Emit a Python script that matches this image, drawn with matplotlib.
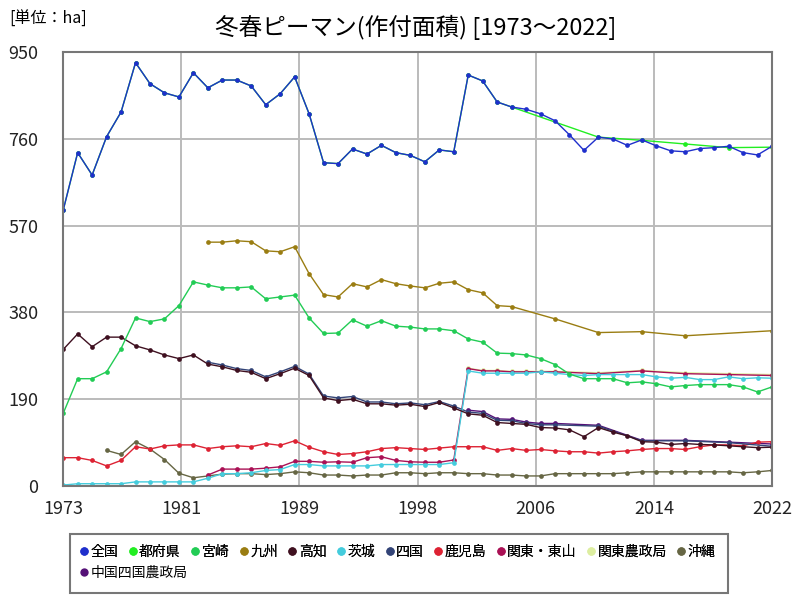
import numpy as np
import matplotlib
matplotlib.use('Agg')
import matplotlib.pyplot as plt
from matplotlib.lines import Line2D
from matplotlib.patches import Rectangle

plt.rcParams['font.family'] = ['Noto Sans CJK JP', 'DejaVu Sans']

# --- data (ha) ---
years = list(range(1973, 2023))

zenkoku = [604, 730, 681, 765, 819, 927, 881, 861, 852, 905,
           872, 889, 889, 876, 835, 859, 896, 815, 708, 706,
           738, 727, 746, 730, 724, 710, 736, 732, 900, 887,
           841, 830, 825, 815, 800, 769, 735, 764, 760, 746,
           758, 745, 734, 732, 739, 741, 744, 730, 725, 744]

tofuken_years = list(range(1973, 2005)) + [2010, 2013, 2016, 2019, 2022]
tofuken = [604, 730, 681, 765, 819, 927, 881, 861, 852, 905,
           872, 889, 889, 876, 835, 859, 896, 815, 708, 706,
           738, 727, 746, 730, 724, 710, 736, 732, 900, 887,
           841, 830,
           764, 757, 749, 741, 742]

miyazaki = [159, 235, 235, 250, 301, 368, 360, 366, 395, 447,
            440, 434, 434, 436, 410, 414, 418, 368, 334, 335,
            364, 350, 362, 350, 348, 344, 344, 340, 322, 315,
            291, 290, 287, 279, 266, 245, 235, 235, 235, 226,
            228, 224, 217, 220, 222, 222, 222, 217, 206, 217]

kyushu_years = list(range(1983, 2005)) + [2007, 2010, 2013, 2016, 2022]
kyushu = [534, 534, 537, 535, 515, 513, 524, 465, 419, 414,
          443, 436, 452, 443, 438, 434, 444, 447, 430, 423,
          395, 393,
          366, 336, 338, 329, 340]

kochi = [299, 333, 305, 326, 326, 307, 298, 287, 279, 287,
         267, 261, 253, 249, 235, 246, 258, 242, 193, 187,
         190, 180, 180, 177, 179, 174, 183, 171, 158, 155,
         139, 137, 135, 128, 127, 123, 108, 128, 118, 110,
         97, 96, 91, 93, 91, 90, 88, 86, 84, 85]

ibaraki = [2, 5, 5, 5, 5, 9, 9, 9, 9, 9,
           17, 27, 27, 29, 34, 36, 47, 47, 44, 44,
           44, 44, 47, 47, 47, 47, 47, 51, 252, 247,
           247, 247, 247, 250, 247, 244, 242, 244, 244, 244,
           244, 239, 236, 238, 233, 233, 239, 235, 237, 236]

shikoku_years = list(range(1983, 2008)) + [2010, 2013, 2016, 2019, 2022]
shikoku = [271, 265, 257, 253, 239, 250, 262, 245, 197, 193,
           196, 184, 184, 180, 182, 178, 185, 175, 162, 159,
           144, 143, 137, 134, 134,
           131, 99, 99, 95, 87]

kagoshima = [62, 62, 56, 44, 56, 86, 81, 88, 90, 90,
             82, 86, 88, 86, 93, 89, 99, 85, 75, 69,
             71, 75, 82, 84, 82, 80, 83, 86, 86, 86,
             78, 82, 78, 80, 77, 75, 75, 72, 75, 77,
             80, 82, 82, 80, 86, 90, 90, 88, 96, 97]

kanto_tosan_years = list(range(1983, 2008)) + [2010, 2013, 2016, 2019, 2022]
kanto_tosan = [24, 37, 37, 37, 39, 42, 54, 54, 52, 53,
               52, 62, 64, 56, 53, 52, 52, 57, 257, 252,
               252, 250, 250, 250, 250,
               246, 252, 246, 244, 242]

kanto_nosei_years = list(range(2001, 2008)) + [2010, 2013, 2016, 2019, 2022]
kanto_nosei = [258, 253, 253, 251, 251, 251, 251, 248, 253, 248, 246, 244]

okinawa_years = list(range(1976, 2023))
okinawa = [78, 69, 97, 81, 58, 28, 18,
           22, 26, 27, 27, 25, 27, 31, 29,
           24, 24, 22, 24, 24, 29, 29, 27, 29, 29,
           27, 27, 24, 24, 22, 22,
           27, 27, 27, 27, 27, 29,
           31, 31, 31, 31, 31, 31, 31, 29, 31, 34]

chushi_years = list(range(2001, 2008)) + [2010, 2013, 2016, 2019, 2022]
chushi = [166, 163, 147, 146, 140, 137, 137, 133, 100, 100, 96, 92]

series = [
    ('全国', years, zenkoku, '#1f2fcc'),
    ('都府県', tofuken_years, tofuken, '#22ee22'),
    ('宮崎', years, miyazaki, '#22cc55'),
    ('九州', kyushu_years, kyushu, '#9a7d12'),
    ('高知', years, kochi, '#3f1020'),
    ('茨城', years, ibaraki, '#44ccdd'),
    ('四国', shikoku_years, shikoku, '#334477'),
    ('鹿児島', years, kagoshima, '#dd2233'),
    ('関東・東山', kanto_tosan_years, kanto_tosan, '#aa1155'),
    ('関東農政局', kanto_nosei_years, kanto_nosei, '#ddeea0'),
    ('沖縄', okinawa_years, okinawa, '#666644'),
    ('中国四国農政局', chushi_years, chushi, '#551177'),
]

yticks = [0, 190, 380, 570, 760, 950]
xtick_labels = ['1973', '1981', '1989', '1998', '2006', '2014', '2022']

fig = plt.figure(figsize=(8, 6), dpi=100)
ax = fig.add_axes([0.079, 0.19, 0.886, 0.723])

# draw back to front so 全国 ends on top
for name, xs, ys, col in reversed(series):
    ax.plot(xs, ys, color=col, lw=1.0, marker='o', markersize=3.4,
            markeredgewidth=0)

ax.set_xlim(1973, 2022)
ax.set_ylim(0, 950)
ax.set_xticks(np.linspace(1973, 2022, len(xtick_labels)))
ax.set_xticklabels(xtick_labels)
ax.set_yticks(yticks)
ax.tick_params(length=0, labelsize=13, colors='#222222')
ax.tick_params(axis='y', pad=18)
ax.tick_params(axis='x', pad=10)
ax.grid(True, color='#bbbbbb', lw=1.4)
for s in ax.spines.values():
    s.set_color('#777777')
    s.set_linewidth(1.5)

fig.text(0.519, 0.955, '冬春ピーマン(作付面積) [1973～2022]', ha='center',
         va='center', fontsize=17)
fig.text(0.012, 0.968, '[単位：ha]', ha='left', va='center', fontsize=11.5)

# legend: box with two rows
fig.patches.append(Rectangle((0.0875, 0.012), 0.823, 0.098,
                             transform=fig.transFigure, fill=False,
                             edgecolor='#777777', lw=1.5))
handles = [Line2D([], [], ls='none', marker='o', markersize=6,
                  markeredgewidth=0, color=c) for _, _, _, c in series]
names = [s[0] for s in series]
leg1 = fig.legend(handles[:11], names[:11], loc='upper left',
                  bbox_to_anchor=(0.088, 0.108), ncol=11, frameon=False,
                  fontsize=10, handlelength=0.6, handletextpad=0.15,
                  columnspacing=0.75, borderpad=0.2)
fig.add_artist(leg1)
fig.legend(handles[11:], names[11:], loc='upper left',
           bbox_to_anchor=(0.088, 0.073), frameon=False, fontsize=10,
           handlelength=0.6, handletextpad=0.15, borderpad=0.2)

plt.savefig('out.png')
